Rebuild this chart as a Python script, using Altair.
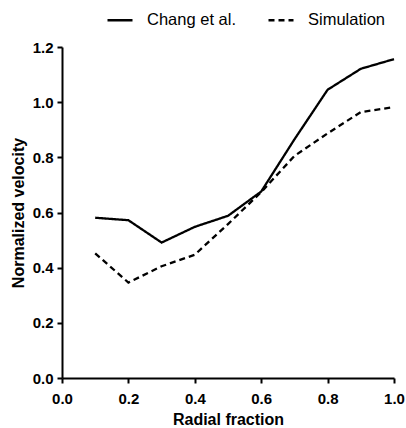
import altair as alt
import pandas as pd

# Radial profile of normalized velocity
radial = [0.1, 0.2, 0.3, 0.4, 0.5, 0.6, 0.7, 0.8, 0.9, 1.0]
chang = [0.581, 0.572, 0.491, 0.548, 0.588, 0.676, 0.865, 1.045, 1.121, 1.156]
simulation = [0.452, 0.346, 0.405, 0.447, 0.558, 0.674, 0.805, 0.887, 0.964, 0.982]
series_names = ["Chang et al.", "Simulation"]

rows = []
for name, vals in zip(series_names, [chang, simulation]):
    for r, v in zip(radial, vals):
        rows.append({"r": r, "v": v, "series": name})
df = pd.DataFrame(rows)

font = "Arial"

chart = (
    alt.Chart(df)
    .mark_line(strokeWidth=2.3, color="black")
    .encode(
        x=alt.X(
            "r:Q",
            scale=alt.Scale(domain=[0, 1], nice=False, zero=True),
            axis=alt.Axis(
                title="Radial fraction",
                values=[0, 0.2, 0.4, 0.6, 0.8, 1.0],
                format=".1f",
                labelPadding=8,
                titlePadding=5,
            ),
        ),
        y=alt.Y(
            "v:Q",
            scale=alt.Scale(domain=[0, 1.2], nice=False),
            axis=alt.Axis(
                title="Normalized velocity",
                values=[0, 0.2, 0.4, 0.6, 0.8, 1.0, 1.2],
                format=".1f",
                labelPadding=4,
                titlePadding=6,
            ),
        ),
        strokeDash=alt.StrokeDash(
            "series:N",
            scale=alt.Scale(domain=series_names, range=[[1, 0], [6, 4]]),
            legend=alt.Legend(
                title=None,
                orient="none",
                direction="horizontal",
                legendX=44,
                legendY=-41,
                symbolType="stroke",
                symbolSize=625,
                symbolStrokeWidth=2.3,
                symbolStrokeColor="black",
                labelFontSize=16.5,
                labelFont=font,
                labelColor="black",
                labelOffset=13,
                columnPadding=27,
            ),
        ),
    )
    .properties(
        width=332,
        height=331,
        padding={"left": 62, "top": 47, "right": 12, "bottom": 50},
        autosize=alt.AutoSizeParams(type="none"),
    )
    .configure_view(stroke=None)
    .configure_axis(
        grid=False,
        domainColor="black",
        domainWidth=2,
        tickColor="black",
        tickWidth=2,
        tickSize=5,
        labelFlush=False,
        labelFont=font,
        labelFontSize=15,
        labelFontWeight="bold",
        labelColor="black",
        titleFont=font,
        titleFontSize=16,
        titleFontWeight="bold",
        titleColor="black",
    )
)

chart.save("out.html", embed_options={"renderer": "svg", "actions": False})
